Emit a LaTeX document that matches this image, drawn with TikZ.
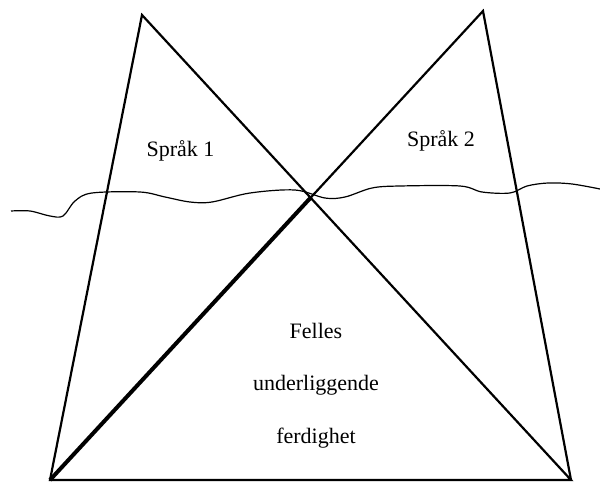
\documentclass[tikz,border=0pt]{standalone}
\usepackage{fontspec}
\setmainfont{Liberation Serif}
\usetikzlibrary{calc}

\begin{document}
\begin{tikzpicture}[x=1pt,y=-1pt,side/.style={line width=2.2pt,line join=miter},
  label/.style={anchor=base,inner sep=0pt,font=\fontsize{22}{26}\selectfont}]
\useasboundingbox (0,0) rectangle (600,484);
\coordinate (bl) at (50,480);
\coordinate (br) at (571,480);
\coordinate (topL) at (142,15);
\coordinate (topR) at (483,11);
\coordinate (x) at (intersection of bl--topR and br--topL);
\draw[side] (bl)--(br)--(topL)--cycle;
\draw[side] (bl)--(topR)--(br);
\draw[line width=4pt] (bl)--(x);
\draw[line width=1.2pt] plot[smooth,tension=0.55] coordinates {(11,211) (30,211) (50,216) (63,216) (75,201) (92,193) (140,192) (165,197) (190,202) (212,202) (250,193) (295,190) (325,198) (345,197) (372,188) (400,186) (460,186) (482,192) (510,193) (527,186) (548,183) (572,184) (600,189)};
\node[label] (sp1) at (180.5,157) {Språk 1};
\node[label] (sp2) at (441,147) {Språk 2};
\node[label] (felles) at (316,338) {Felles};
\node[label] (underl) at (316,390) {underliggende};
\node[label] (ferd) at (316,443) {ferdighet};
\end{tikzpicture}
\end{document}
